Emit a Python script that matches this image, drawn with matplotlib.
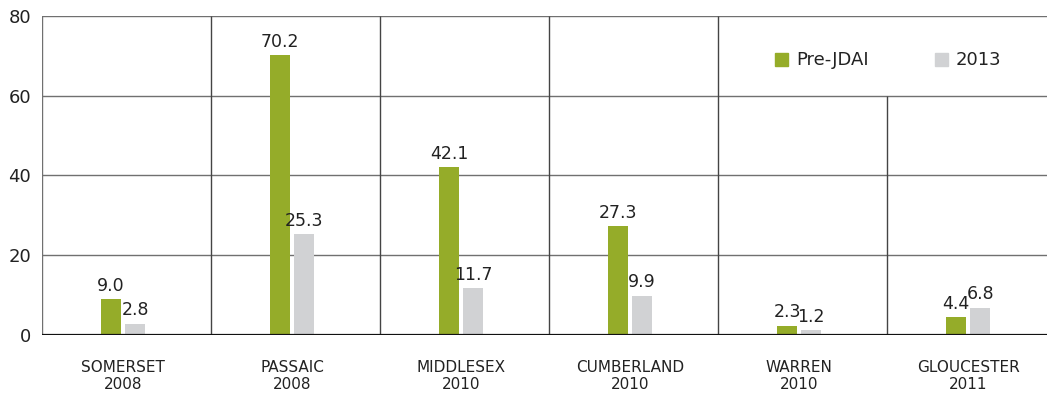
import numpy as np
import matplotlib.pyplot as plt
from matplotlib.patches import Rectangle

# data
counties = ['SOMERSET\n2008', 'PASSAIC\n2008', 'MIDDLESEX\n2010',
            'CUMBERLAND\n2010', 'WARREN\n2010', 'GLOUCESTER\n2011']
pre_jdai = [9.0, 70.2, 42.1, 27.3, 2.3, 4.4]
y2013 = [2.8, 25.3, 11.7, 9.9, 1.2, 6.8]
series_names = ['Pre-JDAI', '2013']
yticks = [0, 20, 40, 60, 80]

green = '#95ac29'
grey = '#d1d2d4'
grid_c = '#707070'
txt_c = '#222222'
narrow = ['Liberation Sans Narrow', 'DejaVu Sans']

fig = plt.figure(figsize=(10.47, 3.96), dpi=100)
ax = fig.add_axes([42 / 1047, 1 - 335 / 396, 1 - 42 / 1047, (335 - 16) / 396])

x = np.arange(len(counties))
w = 0.118
off = 0.071
shift = -0.02

# grid
for t in yticks[1:]:
    ax.axhline(t, color=grid_c, lw=1.0, zorder=0)
for s in np.arange(-0.5, 5.0, 1.0):
    top = 60 if s == 4.5 else 80
    ax.plot([s, s], [0, top], color='#444444' if s > -0.5 else grid_c,
            lw=1.0, zorder=0, solid_capstyle='butt')
ax.axhline(0, color='#111111', lw=1.6, zorder=3)

b1 = ax.bar(x + shift - off, pre_jdai, width=w, color=green, zorder=2)
b2 = ax.bar(x + shift + off, y2013, width=w, color=grey, zorder=2)

for bars, vals in ((b1, pre_jdai), (b2, y2013)):
    for r, v in zip(bars, vals):
        ax.text(r.get_x() + r.get_width() / 2, v + 1.1, f'{v:.1f}',
                ha='center', va='bottom', fontsize=12.5, color=txt_c)

ax.set_xlim(-0.5, (1047 - 42) / 169 - 0.5)
ax.set_ylim(0, 80)
ax.set_yticks(yticks)
ax.set_yticklabels([str(t) for t in yticks], fontsize=13, color=txt_c)
ax.set_xticks(x + shift)
ax.set_xticklabels(counties, fontsize=11, color=txt_c, family=narrow,
                   linespacing=1.2)
ax.tick_params(axis='both', length=0)
ax.tick_params(axis='x', pad=18)
ax.tick_params(axis='y', pad=8)
for sp in ['top', 'right', 'bottom', 'left']:
    ax.spines[sp].set_visible(False)

# legend
for px, name, col in ((775, series_names[0], green), (935, series_names[1], grey)):
    xd = (px - 42) / 169 - 0.5
    ax.add_patch(Rectangle((xd, 67.4), 13 / 169, 3.3, color=col, zorder=4))
    ax.text(xd + 21 / 169, 69.0, name, ha='left', va='center',
            fontsize=13, color=txt_c, zorder=4)

fig.savefig('out.png', dpi=100)
